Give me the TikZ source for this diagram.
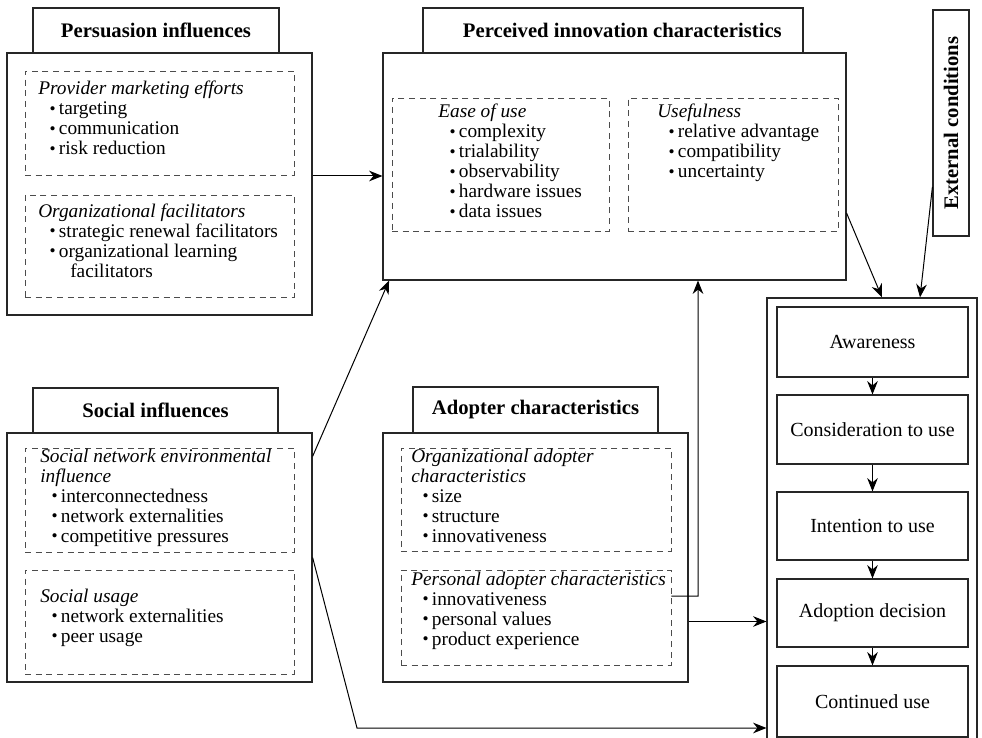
\documentclass[tikz,border=0pt]{standalone}
\usepackage{fontspec}
\setmainfont{Liberation Serif}
\usetikzlibrary{arrows.meta}
\usetikzlibrary{fit}
\usetikzlibrary{calc}

\newcommand{\bul}{\raisebox{0.3pt}{\fontsize{13}{13}\selectfont\textbullet}}
\newcommand{\itm}[1]{\hspace*{8.5pt}\makebox[7pt][l]{\bul}#1}
\newcommand{\hd}[1]{\textit{#1}}

\begin{document}
\begin{tikzpicture}[x=0.75pt, y=-0.75pt,
  box/.style={draw=black!85, line width=0.9pt, inner sep=0pt},
  dbox/.style={draw=black!70, line width=0.7pt, dash pattern=on 4.5pt off 3.5pt, inner sep=0pt},
  ttl/.style={inner sep=0pt, font=\fontsize{15.5}{16}\selectfont\bfseries},
  txt/.style={anchor=base west, inner sep=0pt, align=left, font=\fontsize{14.5}{15}\selectfont},
  stagetxt/.style={inner sep=0pt, font=\fontsize{15}{16}\selectfont},
  arr/.style={draw=black, line width=0.75pt, -{Stealth[length=10pt, width=8pt]}}]
\useasboundingbox (0,0) rectangle (982,738);

% persuasion influences (text nodes sit on the baseline of their last line)
\node[box, fit={(33,8) (279,53)}] (perstitle) {};
\node[ttl] (perstitletxt) at (perstitle.center) {Persuasion influences};
\node[box, fit={(7,53) (312,315)}] (pers) {};
\node[dbox, fit={(25,71) (294,175)}] (pers1) {};
\node[dbox, fit={(25,195) (294,297)}] (pers2) {};
\node[txt] (pers1txt) at (38,155) {\hd{Provider marketing efforts}\\\itm{targeting}\\\itm{communication}\\\itm{risk reduction}};
\node[txt] (pers2txt) at (38,277) {\hd{Organizational facilitators}\\\itm{strategic renewal facilitators}\\\itm{organizational learning}\\\hspace*{24pt}facilitators};

% perceived innovation characteristics
\node[box, fit={(423,8) (803,53)}] (perctitle) {};
\node[ttl] (perctitletxt) at ([xshift=7pt]perctitle.center) {Perceived innovation characteristics};
\node[box, fit={(383,53) (846,280)}] (perc) {};
\node[dbox, fit={(392,98) (609,231)}] (ease) {};
\node[dbox, fit={(628,98) (838,231)}] (useful) {};
\node[txt] (easetxt) at (438,218) {\hd{Ease of use}\\\itm{complexity}\\\itm{trialability}\\\itm{observability}\\\itm{hardware issues}\\\itm{data issues}};
\node[txt] (usefultxt) at (657,178) {\hd{Usefulness}\\\itm{relative advantage}\\\itm{compatibility}\\\itm{uncertainty}};

% external conditions
\node[box, fit={(933,10) (969,236)}] (ext) {};
\node[ttl, rotate=90] (exttxt) at (ext.center) {External conditions};

% social influences
\node[box, fit={(33,388) (278,433)}] (soctitle) {};
\node[ttl] (soctitletxt) at (soctitle.center) {Social influences};
\node[box, fit={(7,433) (312,682)}] (soc) {};
\node[dbox, fit={(25,448) (294,552)}] (soc1) {};
\node[dbox, fit={(25,570) (294,674)}] (soc2) {};
\node[txt] (soc1txt) at (40,542) {\hd{Social network environmental}\\\hd{influence}\\\itm{interconnectedness}\\\itm{network externalities}\\\itm{competitive pressures}};
\node[txt] (soc2txt) at (40,642) {\hd{Social usage}\\\itm{network externalities}\\\itm{peer usage}};

% adopter characteristics
\node[box, fit={(413,387) (658,433)}] (adoptitle) {};
\node[ttl] (adoptitletxt) at (adoptitle.center) {Adopter characteristics};
\node[box, fit={(383,433) (688,682)}] (adop) {};
\node[dbox, fit={(401,448) (671,551)}] (adop1) {};
\node[dbox, fit={(401,570) (671,665)}] (adop2) {};
\node[txt] (adop1txt) at (411,542) {\hd{Organizational adopter}\\\hd{characteristics}\\\itm{size}\\\itm{structure}\\\itm{innovativeness}};
\node[txt] (adop2txt) at (411,645) {\hd{Personal adopter characteristics}\\\itm{innovativeness}\\\itm{personal values}\\\itm{product experience}};

% adoption stages
\node[box, fit={(767,298) (977,750)}] (stage) {};
\node[box, fit={(777,307) (968,377)}] (aware) {};
\node[box, fit={(777,395) (968,464)}] (consid) {};
\node[box, fit={(777,492) (968,560)}] (intent) {};
\node[box, fit={(777,579) (968,647)}] (decis) {};
\node[box, fit={(777,666) (968,737)}] (contin) {};
\node[stagetxt] (awaretxt) at (aware.center) {Awareness};
\node[stagetxt] (considtxt) at (consid.center) {Consideration to use};
\node[stagetxt] (intenttxt) at (intent.center) {Intention to use};
\node[stagetxt] (decistxt) at (decis.center) {Adoption decision};
\node[stagetxt] (contintxt) at (contin.center) {Continued use};

\foreach \a/\b in {aware/consid, consid/intent, intent/decis, decis/contin}
  \draw[arr] (\a.south) -- (\b.north);

% connectors
\coordinate (bend) at (357,728);
\coordinate (riser) at (698,596);
\draw[arr] ([yshift=6pt]pers.east) -- ([yshift=6pt]pers.east -| perc.west);
\draw[arr] ([yshift=-18pt]soc.north east) -- ([xshift=5pt]perc.south west);
\draw[arr] (soc.east) -- (bend) -- (bend -| stage.west);
\draw[arr] ([yshift=16pt]adop2.east) -- (riser) -- (riser |- perc.south);
\draw[arr] ([yshift=-48pt]adop.east) -- ([yshift=-48pt]adop.east -| stage.west);
\draw[arr] ([yshift=-35pt]perc.east) -- ([xshift=7.5pt]stage.north);
\draw[arr] ([yshift=-48pt]ext.west) -- ([xshift=36pt]stage.north);

\end{tikzpicture}
\end{document}
